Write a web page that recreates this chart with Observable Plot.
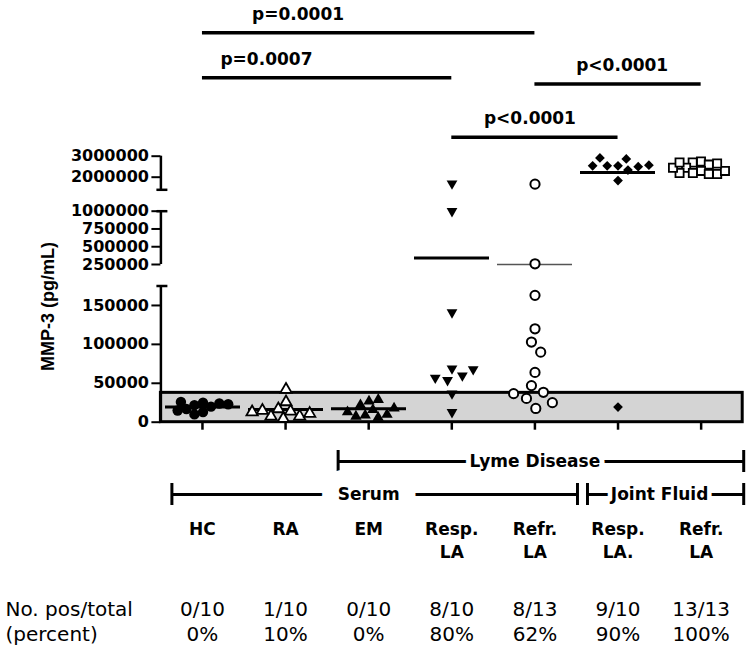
<!DOCTYPE html>
<html>
<head>
<meta charset="utf-8">
<script src="https://cdn.jsdelivr.net/npm/d3@7"></script>
<script src="https://cdn.jsdelivr.net/npm/@observablehq/plot@0.6"></script>
<style>
  html, body { margin: 0; padding: 0; background: #fff; }
  #chart { width: 750px; height: 652px; overflow: hidden; background: #fff; }
  #chart > div { position: relative; width: 750px; }
  #chart svg { display: block; }
  #main svg { position: absolute; left: 0; top: 0; }
</style>
</head>
<body>
<div id="chart">
  <div id="top"></div>
  <div id="main" style="height:295px"></div>
  <div id="brackets"></div>
  <div id="labels"></div>
  <div id="table"></div>
</div>
<script>
// ---------------- data ----------------
const categories = ["HC", "RA", "EM", "Serum Resp. LA", "Serum Refr. LA", "Joint Fluid Resp. LA", "Joint Fluid Refr. LA"];
const categoryLabels = ["HC", "RA", "EM", "Resp.\nLA", "Refr.\nLA", "Resp.\nLA.", "Refr.\nLA"];

const hcValues = [25000, 22000, 20000, 24000, 13000, 10000, 17000, 26000, 23000, 15000];
const raValues = [42000, 26000, 17000, 14000, 7500, 4500, 7500, 11000, 15000, 13000];
const emValues = [27000, 22000, 16000, 29000, 9000, 6000, 7500, 10000, 13000, 18000];
const respLAValues = [1700000, 1000000, 141000, 69000, 54000, 60000, 57000, 68000, 36700, 12900];
const refrLAValues = [1670000, 260000, 163000, 120000, 103000, 90000, 64000, 47000, 38400, 30600, 17700, 25100, 36700];
const jfRespValues = [2540000, 2540000, 2870000, 2340000, 1840000, 2920000, 2500000, 2540000, 2570000, 19400];
const jfRefrValues = [2750000, 2700000, 2600000, 2450000, 2300000, 2200000, 2150000, 2150000, 2200000, 2300000, 2450000, 2650000, 2700000];
const medianValues = [19400, 16400, 17300, 343000, 250000, 2220000, null];

const cutoff = 37700;
const posTotal = ["0/10", "1/10", "0/10", "8/10", "8/13", "9/10", "13/13"];
const percentPos = ["0%", "10%", "0%", "80%", "62%", "90%", "100%"];
const rowLabels = ["No. pos/total", "(percent)"];

const yTickValues = [0, 50000, 100000, 150000, 250000, 500000, 750000, 1000000, 2000000, 3000000];
const yAxisSegments = [[0, 175000], [250000, 1000000], [1400000, 3000000]];
const yCapValues = [175000, 1000000, 1400000];
const yLabel = "MMP-3 (pg/mL)";

const pFrom = ["HC", "HC", "Serum Refr. LA", "Serum Resp. LA"];
const pTo = ["Serum Refr. LA", "Serum Resp. LA", "Joint Fluid Refr. LA", "Joint Fluid Resp. LA"];
const pLabels = ["p=0.0001", "p=0.0007", "p<0.0001", "p<0.0001"];
const pLevels = [3, 2.14, 2.02, 1];
const pLabelAt = [1.65, 1.27, 5.55, 4.44];

const bracketLabels = ["Lyme Disease", "Serum", "Joint Fluid"];
const bracketFrom = ["EM", "HC", "Joint Fluid Resp. LA"];
const bracketTo = ["Joint Fluid Refr. LA", "Serum Refr. LA", "Joint Fluid Refr. LA"];
const bracketRow = ["upper", "lower", "lower"];

// ---------------- styles / layout ----------------
const BOLD = {fontFamily: "DejaVu Sans", fontWeight: "bold", fontSize: 17, fill: "black"};
const SVG_STYLE = "background: transparent; overflow: visible;";
const xRange = [160.4, 742.2];
const yScaleOptions = {
  type: "linear",
  domain: [0, 175000, 250000, 1000000, 1400000, 3000000],
  range: [276.7, 140.5, 119, 65.7, 44.3, 10.7]
};
const sqrt3 = Math.sqrt(3);
const invertedTriangle = {
  draw(context, size) {
    const y = Math.sqrt(size / (sqrt3 * 3));
    context.moveTo(0, 2 * y);
    context.lineTo(-sqrt3 * y, -y);
    context.lineTo(sqrt3 * y, -y);
    context.closePath();
  }
};
const groupStyle = [
  {symbol: "circle", r: 5.2, fill: "black", stroke: "none", strokeWidth: 0, medianWidth: 3, medianColor: "black", dodgePad: -1.5},
  {symbol: "triangle", r: 4.2, fill: "white", stroke: "black", strokeWidth: 1.8, medianWidth: 3, medianColor: "black", dodgePad: 2},
  {symbol: "triangle", r: 4.2, fill: "black", stroke: "none", strokeWidth: 0, medianWidth: 3, medianColor: "black", dodgePad: 1},
  {symbol: invertedTriangle, r: 4.0, fill: "black", stroke: "none", strokeWidth: 0, medianWidth: 3, medianColor: "black", dodgePad: 4.5},
  {symbol: "circle", r: 4.6, fill: "white", stroke: "black", strokeWidth: 2, medianWidth: 1.5, medianColor: "#555", dodgePad: 4.5},
  {symbol: "diamond2", r: 4.4, fill: "black", stroke: "none", strokeWidth: 0, medianWidth: 3, medianColor: "black", dodgePad: 2},
  {symbol: "square", r: 4.6, fill: "white", stroke: "black", strokeWidth: 1.8, medianWidth: 3, medianColor: "black", dodgePad: -0.8}
];
const groups = [hcValues, raValues, emValues, respLAValues, refrLAValues, jfRespValues, jfRefrValues];
const catIndex = c => categories.indexOf(c);

// ---------------- top: p-value comparisons ----------------
const pRows = pLabels.map((label, i) => ({label, from: pFrom[i], to: pTo[i], level: pLevels[i], at: pLabelAt[i]}));
document.getElementById("top").append(Plot.plot({
  width: 750, height: 145, margin: 0, style: SVG_STYLE,
  x: {type: "linear", domain: [0, categories.length], range: xRange, axis: null},
  y: {type: "linear", domain: [0.84, 3.62], range: [145, 0], axis: null},
  marks: [
    Plot.ruleY(pRows, {x1: d => catIndex(d.from) + 0.5, x2: d => catIndex(d.to) + 0.5, y: "level", stroke: "black", strokeWidth: 3.5}),
    Plot.text(pRows, {x: "at", y: "level", text: "label", dy: -13, lineAnchor: "bottom", ...BOLD})
  ]
}));

// ---------------- main: underlay (box + axes) ----------------
const main = document.getElementById("main");
main.append(Plot.plot({
  width: 750, height: 295, marginLeft: xRange[0], marginRight: 750 - xRange[1], marginTop: 27, marginBottom: 0,
  style: SVG_STYLE,
  x: {type: "linear", domain: [0, categories.length], axis: null},
  y: {...yScaleOptions, axis: null},
  marks: [
    Plot.rect([cutoff], {x1: 0, x2: categories.length, y1: 0, y2: d => d, fill: "#d4d4d4", stroke: "black", strokeWidth: 3}),
    Plot.ruleX(yAxisSegments, {x: 0, y1: d => d[0], y2: d => d[1], stroke: "black", strokeWidth: 2.5}),
    Plot.ruleY(yCapValues, {x1: 0, x2: 0, y: d => d, insetLeft: -4, insetRight: -7, stroke: "black", strokeWidth: 2.5}),
    Plot.ruleX(categories, {x: (d, i) => i + 0.5, y1: 0, y2: 0, insetBottom: -8, stroke: "black", strokeWidth: 2.5}),
    Plot.axisY({ticks: yTickValues, tickSize: 9, tickPadding: 3, tickFormat: d => String(d), strokeWidth: 2, label: null, ...BOLD, fontSize: 16}),
    Plot.text([yLabel], {frameAnchor: "left", textAnchor: "middle", rotate: -90, dx: -113, fontFamily: "Liberation Sans", fontWeight: "bold", fontSize: 18, fill: "black"})
  ]
}));

// ---------------- main: overlay (medians + dots, dodged per category facet) ----------------
const medianMarks = [];
const dotMarks = [];
categories.forEach((c, i) => {
  const st = groupStyle[i];
  if (medianValues[i] != null) {
    medianMarks.push(Plot.tickY([{cat: c, value: medianValues[i]}], {fx: "cat", y: "value", stroke: st.medianColor, strokeWidth: st.medianWidth, inset: 4}));
  }
  dotMarks.push(Plot.dot(groups[i].map(v => ({cat: c, value: v})),
    Plot.dodgeX({anchor: "middle", padding: st.dodgePad}, {fx: "cat", y: "value", r: st.r, symbol: st.symbol, fill: st.fill, stroke: st.stroke, strokeWidth: st.strokeWidth})));
});
main.append(Plot.plot({
  width: 750, height: 295, marginLeft: xRange[0], marginRight: 750 - xRange[1], marginTop: 27, marginBottom: 0,
  style: SVG_STYLE,
  fx: {domain: categories, padding: 0, axis: null},
  y: {...yScaleOptions, axis: null},
  marks: [...medianMarks, ...dotMarks]
}));

// ---------------- brackets: Lyme disease / Serum / Joint fluid ----------------
const bRows = bracketLabels.map((label, i) => ({label, from: bracketFrom[i], to: bracketTo[i], row: bracketRow[i]}));
const haloWidth = {"Lyme Disease": 10, "Serum": 34, "Joint Fluid": 9};
document.getElementById("brackets").append(Plot.plot({
  width: 750, height: 72, margin: 0, style: SVG_STYLE,
  x: {type: "linear", domain: [0, categories.length], range: xRange, axis: null},
  y: {type: "point", domain: ["upper", "lower"], range: [21, 54], padding: 0, axis: null},
  marks: [
    Plot.ruleY(bRows, {x1: d => catIndex(d.from), x2: d => catIndex(d.to) + 1, y: "row", insetLeft: 11, insetRight: -1, stroke: "black", strokeWidth: 3}),
    Plot.ruleX(bRows, {x: d => catIndex(d.from), y1: "row", y2: "row", dx: 11, insetTop: -11, insetBottom: -11, stroke: "black", strokeWidth: 3}),
    Plot.ruleX(bRows, {x: d => catIndex(d.to) + 1, y1: "row", y2: "row", dx: 1, insetTop: -11, insetBottom: -11, stroke: "black", strokeWidth: 3}),
    Plot.text(bRows, {x: d => (catIndex(d.from) + catIndex(d.to) + 1) / 2, y: "row", text: "label",
      stroke: "white", strokeWidth: d => haloWidth[d.label], strokeLinejoin: "round", paintOrder: "stroke", ...BOLD})
  ]
}));

// ---------------- category labels ----------------
document.getElementById("labels").append(Plot.plot({
  width: 750, height: 65, margin: 0, marginTop: 5, style: SVG_STYLE,
  x: {type: "linear", domain: [0, categories.length], range: xRange, axis: null},
  marks: [
    Plot.text(categoryLabels, {x: (d, i) => i + 0.5, text: d => d, frameAnchor: "top", lineAnchor: "top", lineHeight: 1.41, ...BOLD})
  ]
}));

// ---------------- positives table ----------------
const REG = {fontFamily: "DejaVu Sans", fontSize: 20, fill: "black"};
document.getElementById("table").append(Plot.plot({
  width: 750, height: 75, margin: 0, marginTop: 21, marginLeft: 5, style: SVG_STYLE,
  x: {type: "linear", domain: [0, categories.length], range: xRange, axis: null},
  marks: [
    Plot.text([rowLabels.join("\n")], {frameAnchor: "top-left", textAnchor: "start", lineAnchor: "top", lineHeight: 1.25, ...REG}),
    Plot.text(posTotal, {x: (d, i) => i + 0.5, text: (d, i) => d + "\n" + percentPos[i], frameAnchor: "top", lineAnchor: "top", lineHeight: 1.25, ...REG})
  ]
}));
</script>
</body>
</html>
